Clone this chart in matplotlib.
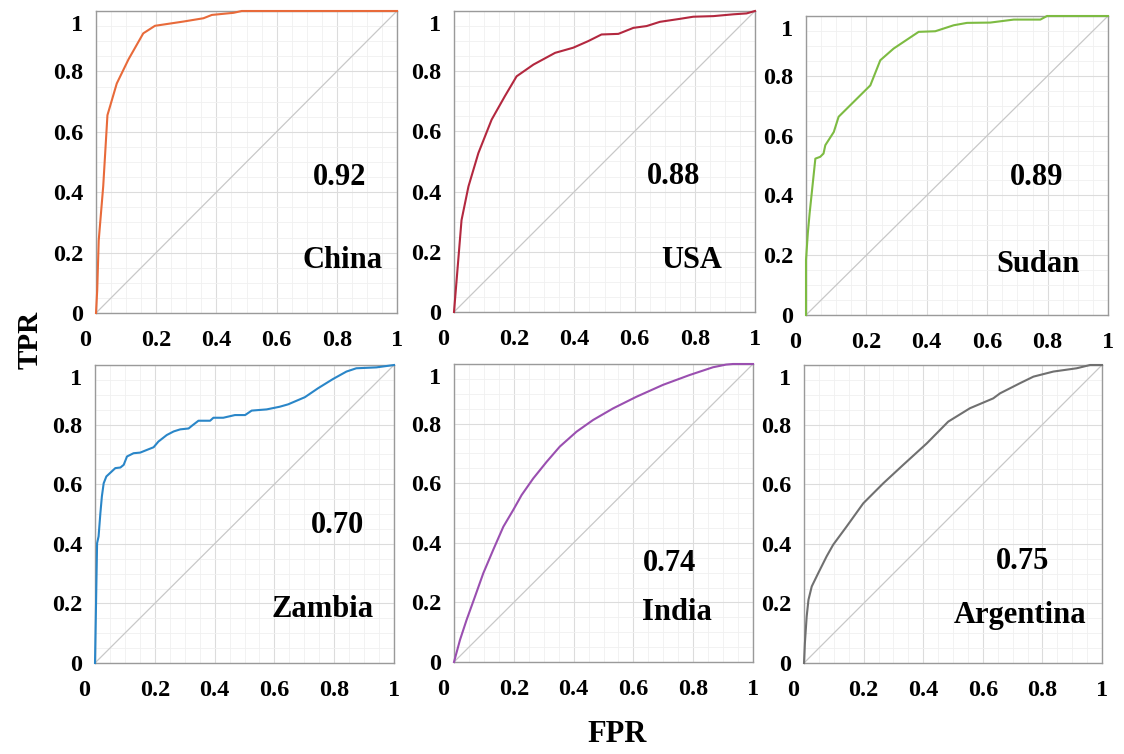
import matplotlib
matplotlib.use("Agg")
import matplotlib.pyplot as plt
from matplotlib.ticker import MultipleLocator
from matplotlib.transforms import ScaledTranslation

plt.rcParams['font.family'] = ['Liberation Serif', 'DejaVu Serif']
plt.rcParams['font.weight'] = 'bold'

countries = ["China", "USA", "Sudan", "Zambia", "India", "Argentina"]
auc_labels = ["0.92", "0.88", "0.89", "0.70", "0.74", "0.75"]
colors = ["#E86A3A", "#B3283F", "#7DBB42", "#2A86C8", "#9A4FB0", "#707070"]

china_fpr = [0, 0.004, 0.009, 0.024, 0.038, 0.069, 0.108, 0.157, 0.196, 0.29, 0.357, 0.385, 0.457, 0.484, 1.0]
china_tpr = [0, 0.075, 0.24, 0.42, 0.655, 0.76, 0.84, 0.926, 0.951, 0.965, 0.976, 0.987, 0.994, 1.0, 1.0]

usa_fpr = [0, 0.025, 0.048, 0.081, 0.125, 0.169, 0.208, 0.264, 0.336, 0.396, 0.446, 0.49, 0.546, 0.596, 0.64,
           0.684, 0.751, 0.795, 0.862, 0.928, 0.972, 1.0]
usa_tpr = [0, 0.305, 0.417, 0.528, 0.639, 0.717, 0.783, 0.822, 0.861, 0.878, 0.9, 0.922, 0.924, 0.944, 0.95,
           0.964, 0.974, 0.981, 0.983, 0.989, 0.992, 1.0]

sudan_fpr = [0, 0, 0.006, 0.012, 0.031, 0.047, 0.058, 0.064, 0.092, 0.108, 0.152, 0.213, 0.246, 0.29, 0.373,
             0.428, 0.489, 0.533, 0.61, 0.688, 0.776, 0.798, 1.0]
sudan_tpr = [0, 0.184, 0.273, 0.34, 0.523, 0.529, 0.54, 0.568, 0.612, 0.663, 0.707, 0.768, 0.852, 0.891, 0.947,
             0.949, 0.969, 0.977, 0.978, 0.988, 0.988, 1.0, 1.0]

zambia_fpr = [0, 0.007, 0.012, 0.018, 0.023, 0.029, 0.038, 0.068, 0.085, 0.096, 0.107, 0.129, 0.151, 0.196,
              0.212, 0.24, 0.263, 0.285, 0.313, 0.324, 0.346, 0.385, 0.396, 0.429, 0.468, 0.502, 0.524, 0.574,
              0.618, 0.646, 0.702, 0.746, 0.796, 0.841, 0.874, 0.941, 1.0]
zambia_tpr = [0, 0.402, 0.425, 0.503, 0.559, 0.603, 0.626, 0.654, 0.656, 0.665, 0.693, 0.704, 0.706, 0.724,
              0.743, 0.765, 0.777, 0.784, 0.787, 0.796, 0.813, 0.813, 0.823, 0.823, 0.832, 0.832, 0.847, 0.851,
              0.86, 0.868, 0.892, 0.922, 0.953, 0.978, 0.989, 0.992, 1.0]

india_fpr = [0, 0.020, 0.042, 0.07, 0.098, 0.131, 0.165, 0.198, 0.226, 0.265, 0.31, 0.354, 0.41, 0.465, 0.532,
             0.61, 0.699, 0.788, 0.866, 0.91, 0.933, 1.0]
india_tpr = [0, 0.074, 0.141, 0.219, 0.298, 0.376, 0.454, 0.51, 0.56, 0.616, 0.672, 0.723, 0.773, 0.812, 0.851,
             0.89, 0.93, 0.963, 0.989, 0.998, 1.0, 1.0]

argentina_fpr = [0, 0.003, 0.009, 0.015, 0.026, 0.048, 0.076, 0.098, 0.143, 0.199, 0.266, 0.333, 0.412, 0.484,
                 0.557, 0.635, 0.658, 0.725, 0.77, 0.837, 0.915, 0.96, 1.0]
argentina_tpr = [0, 0.067, 0.156, 0.212, 0.257, 0.302, 0.358, 0.397, 0.458, 0.536, 0.603, 0.665, 0.737, 0.81,
                 0.855, 0.888, 0.905, 0.939, 0.961, 0.978, 0.989, 1.0, 1.0]

fprs = [china_fpr, usa_fpr, sudan_fpr, zambia_fpr, india_fpr, argentina_fpr]
tprs = [china_tpr, usa_tpr, sudan_tpr, zambia_tpr, india_tpr, argentina_tpr]

tick_vals = [0, 0.2, 0.4, 0.6, 0.8, 1]
tick_labels = ["0", "0.2", "0.4", "0.6", "0.8", "1"]

# layout (pixel boxes: left, top, right, bottom)
W, H = 1124, 754
boxes = [(96, 11, 397, 313), (454, 11, 755, 312), (806, 16, 1108, 315),
         (95, 365, 394, 663), (454, 364, 753, 662), (804, 365, 1102, 663)]
auc_pos = [(0.81, 0.45), (0.73, 0.45), (0.765, 0.46), (0.81, 0.46), (0.72, 0.33), (0.735, 0.34)]
name_pos = [(0.82, 0.175), (0.79, 0.17), (0.77, 0.17), (0.76, 0.18), (0.745, 0.165), (0.725, 0.16)]

fig = plt.figure(figsize=(W / 100, H / 100), dpi=100)

for i in range(6):
    l, t, r, b = boxes[i]
    ax = fig.add_axes([l / W, 1 - b / H, (r - l) / W, (b - t) / H])
    ax.set_xlim(0, 1)
    ax.set_ylim(0, 1)
    ax.xaxis.set_minor_locator(MultipleLocator(0.05))
    ax.yaxis.set_minor_locator(MultipleLocator(0.05))
    ax.grid(True, which='major', color='#dcdcdc', lw=0.8)
    ax.grid(True, which='minor', color='#f0f0f0', lw=0.6)
    ax.set_axisbelow(True)
    ax.plot([0, 1], [0, 1], color='#c8c8c8', lw=0.9)
    ax.plot(fprs[i], tprs[i], color=colors[i], lw=1.5, clip_on=False, zorder=3)
    ax.set_xticks(tick_vals)
    ax.set_xticklabels(tick_labels)
    ax.set_yticks(tick_vals)
    ax.set_yticklabels(tick_labels)
    ax.tick_params(which='both', length=0, labelsize=17.5)
    ax.tick_params(axis='x', pad=12)
    ax.tick_params(axis='y', pad=9)
    for lab in ax.get_xticklabels() + ax.get_yticklabels():
        lab.set_fontweight('bold')
    # small label offsets as in the reference
    xl = ax.get_xticklabels()[0]
    xl.set_transform(xl.get_transform() + ScaledTranslation(-11 / 100, 0, fig.dpi_scale_trans))
    yl = ax.get_yticklabels()[-1]
    yl.set_transform(yl.get_transform() + ScaledTranslation(0, -12 / 100, fig.dpi_scale_trans))
    for s in ax.spines.values():
        s.set_color('#9a9a9a')
        s.set_linewidth(1.0)
    ax.text(auc_pos[i][0], auc_pos[i][1], auc_labels[i], ha='center', va='center',
            fontsize=22, fontweight='bold')
    ax.text(name_pos[i][0], name_pos[i][1], countries[i], ha='center', va='center',
            fontsize=22, fontweight='bold')

fig.text(30 / W, 1 - 340 / H, "TPR", rotation=90, ha='center', va='center', fontsize=21, fontweight='bold')
fig.text(617 / W, 1 - 735 / H, "FPR", ha='center', va='center', fontsize=22, fontweight='bold')

fig.savefig("out.png", dpi=100)
